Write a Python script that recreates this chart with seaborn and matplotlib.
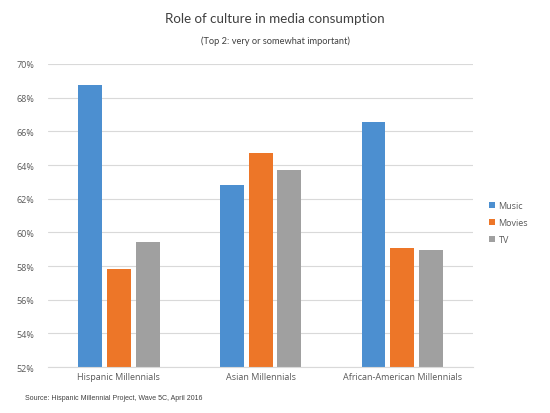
import pandas as pd
import matplotlib.pyplot as plt
import seaborn as sns
from matplotlib.ticker import PercentFormatter

# Data
groups = ["Hispanic Millennials", "Asian Millennials", "African-American Millennials"]
music = [68.75, 62.8, 66.55]
movies = [57.8, 64.7, 59.05]
tv = [59.45, 63.7, 58.97]
media = ["Music", "Movies", "TV"]
colors = ["#4C8FD0", "#ED7628", "#A0A0A0"]

df = pd.DataFrame({
    "group": groups * 3,
    "media": [m for m in media for _ in groups],
    "value": music + movies + tv,
})

sns.set_style("white")
plt.rcParams['font.family'] = ['Open Sans', 'DejaVu Sans']

fig = plt.figure(figsize=(5.5, 4.14), dpi=100)
ax = fig.add_axes([0.0873, 0.111, 0.773, 0.732])

sns.barplot(data=df, x="group", y="value", hue="media", hue_order=media,
            palette=colors, width=0.61, gap=0.17, ax=ax, saturation=1, linewidth=0)

ax.set_ylim(52, 70)
ax.set_yticks(range(52, 71, 2))
ax.yaxis.set_major_formatter(PercentFormatter(decimals=0))
ax.grid(axis='y', color='#d9d9d9', linewidth=0.8)
ax.set_axisbelow(True)
for s in ["top", "right", "left"]:
    ax.spines[s].set_visible(False)
ax.spines["bottom"].set_color('#d9d9d9')
ax.tick_params(axis='both', labelsize=6.5, colors='#595959', length=0)
ax.tick_params(axis='y', pad=10)
ax.set_xlabel("")
ax.set_ylabel("")

leg = ax.legend(loc='center left', bbox_to_anchor=(0.875, 0.46), bbox_transform=fig.transFigure,
                frameon=False, fontsize=6.5, handlelength=0.6, handleheight=0.6,
                handletextpad=0.4, labelspacing=0.9)
for t in leg.get_texts():
    t.set_color('#595959')

fig.text(0.5, 0.955, "Role of culture in media consumption", ha='center', va='center',
         fontsize=9.6, color='#404040', family=['Lato', 'DejaVu Sans'])
fig.text(0.5, 0.9, "(Top 2: very or somewhat important)", ha='center', va='center',
         fontsize=6.7, color='#404040', family=['Lato', 'DejaVu Sans'])
fig.text(0.045, 0.038, "Source: Hispanic Millennial Project, Wave 5C, April 2016", ha='left',
         va='center', fontsize=5, color='#404040', family=['Liberation Sans', 'DejaVu Sans'])

fig.savefig("out.png", dpi=100)
